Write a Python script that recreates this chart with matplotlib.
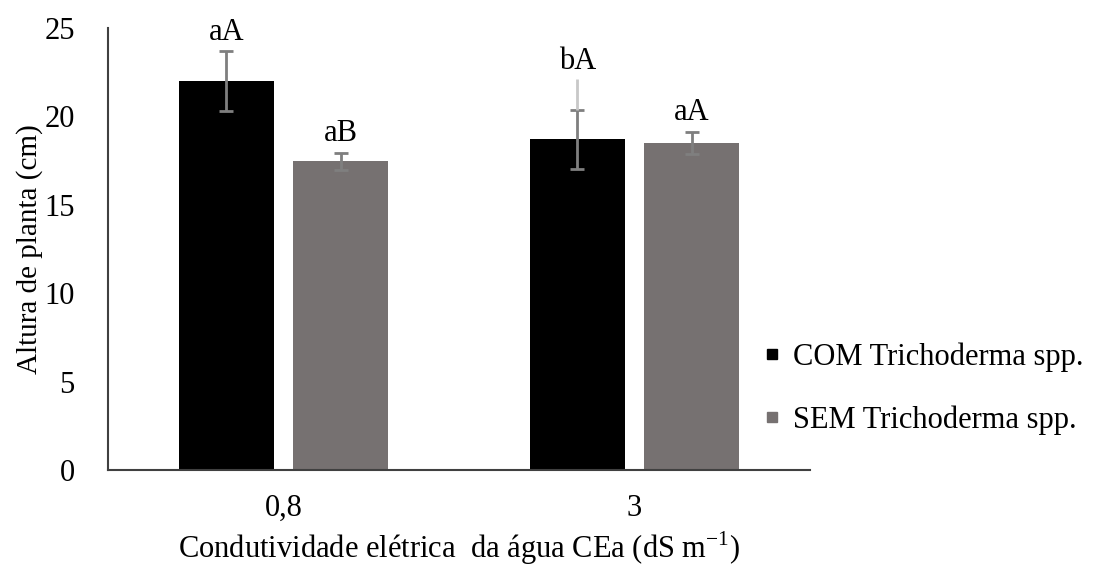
import numpy as np
import matplotlib.pyplot as plt
from matplotlib.lines import Line2D

# Dados
categorias = ["0,8", "3"]
series = ["COM Trichoderma spp.", "SEM Trichoderma spp."]
com_media = [22.0, 18.7]
sem_media = [17.45, 18.5]
com_erro = [1.7, 1.65]
sem_erro = [0.5, 0.6]
com_extra = [None, 22.1]   # traço claro acima da barra de erro (CEa 3)
com_letras = ["aA", "bA"]
sem_letras = ["aB", "aA"]

cor_com = "#000000"
cor_sem = "#767171"
cor_erro = "#7f7f7f"

plt.rcParams["font.family"] = ["Liberation Serif", "DejaVu Serif"]
FS = 22

fig = plt.figure(figsize=(10.94, 5.66), dpi=100)
ax = fig.add_axes([108 / 1094, 1 - 470 / 566, 702 / 1094, 442 / 566])

x = np.arange(len(categorias)) + 0.5
largura = 0.27
desloc = 0.163

ax.bar(x - desloc, com_media, largura, color=cor_com, zorder=2)
ax.bar(x + desloc, sem_media, largura, color=cor_sem, zorder=2)

for xs, med, err in [(x - desloc, com_media, com_erro), (x + desloc, sem_media, sem_erro)]:
    ax.errorbar(xs, med, yerr=err, fmt="none", ecolor=cor_erro,
                elinewidth=2, capsize=5, capthick=2, zorder=3)

for xi, ext, med, err in zip(x - desloc, com_extra, com_media, com_erro):
    if ext is not None:
        ax.vlines(xi, med + err, ext, color="#c8c8c8", lw=2, zorder=3)

def topo(med, err, ext=None):
    t = med + err
    if ext is not None:
        t = max(t, ext)
    return t

for i, xi in enumerate(x - desloc):
    ax.annotate(com_letras[i], (xi, topo(com_media[i], com_erro[i], com_extra[i])),
                xytext=(0, 13), textcoords="offset points",
                ha="center", va="center", fontsize=FS)
for i, xi in enumerate(x + desloc):
    ax.annotate(sem_letras[i], (xi, topo(sem_media[i], sem_erro[i])),
                xytext=(0, 14), textcoords="offset points",
                ha="center", va="center", fontsize=FS)

ax.set_xlim(0, 2)
ax.set_ylim(0, 25)
ax.set_yticks(np.arange(0, 26, 5))
ax.set_xticks(x)
ax.set_xticklabels(categorias)
ax.tick_params(axis="both", length=0, labelsize=FS)
ax.tick_params(axis="y", pad=24)
ax.tick_params(axis="x", pad=17)

for s in ["top", "right"]:
    ax.spines[s].set_visible(False)
for s in ["left", "bottom"]:
    ax.spines[s].set_color("#404040")
    ax.spines[s].set_linewidth(1.5)

ax.set_ylabel("Altura de planta (cm)", fontsize=21)
ax.yaxis.set_label_coords(-0.093, 0.5)
ax.set_xlabel("Condutividade elétrica  da água CEa (dS m$^{\\mathregular{-1}}$)", fontsize=FS)
ax.xaxis.set_label_coords(0.5, -0.135)

handles = [Line2D([], [], marker="s", linestyle="none", markersize=7, color=cor_com),
           Line2D([], [], marker="s", linestyle="none", markersize=7, color=cor_sem)]
fig.legend(handles, series, loc="center left", bbox_to_anchor=(764 / 1094, 1 - 388.5 / 566),
           frameon=False, fontsize=FS, handlelength=0.5, markerscale=1,
           handletextpad=0.45, labelspacing=1.1, borderpad=0, borderaxespad=0)

fig.savefig("out.png", dpi=100)
